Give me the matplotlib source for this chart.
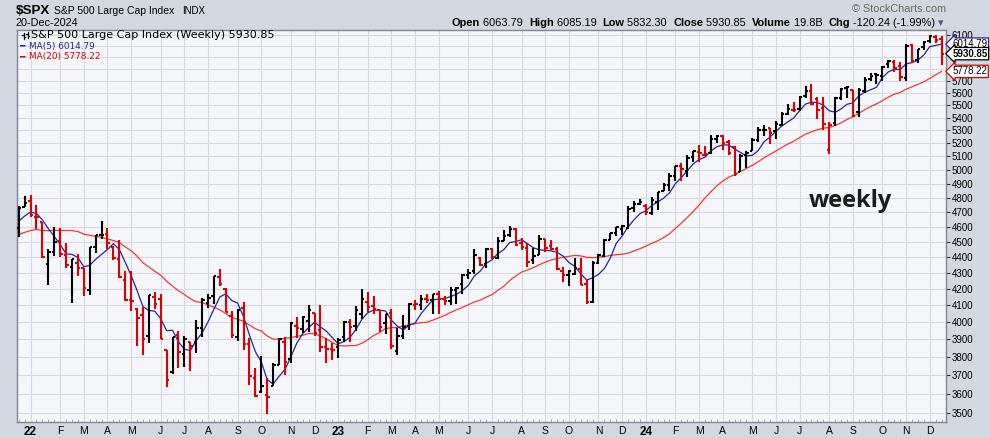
import numpy as np
import pandas as pd
import matplotlib
matplotlib.use("Agg")
import matplotlib.pyplot as plt
from matplotlib.lines import Line2D
from matplotlib.text import Annotation
from matplotlib.ticker import FixedLocator, NullLocator, FixedFormatter

W, H = 990, 438

# weekly closes before the first visible bar (only used to warm up the MAs)
warmup_close = [4468.00, 4441.67, 4509.37, 4535.43, 4458.58, 4432.99, 4455.48,
                4357.04, 4391.34, 4471.37, 4544.90, 4605.38, 4697.53, 4682.85,
                4697.96, 4594.62, 4538.43, 4712.02, 4620.64]

# weekly bars, week ending 23-Dec-2021 .. 20-Dec-2024
week_end = pd.date_range("2021-12-24", periods=157, freq="W-FRI")

opens = [4587.9, 4733.6, 4778.1, 4664.6, 4632.2, 4356.3, 4431.8, 4505.8, 4412.6, 4332.7,
         4363.1, 4327.0, 4188.8, 4462.4, 4541.1, 4547.9, 4462.6, 4385.6, 4255.3, 4130.6,
         4077.0, 4041.3, 3919.4, 4151.1, 4134.7, 3838.2, 3715.3, 3920.8, 3815.1, 3880.9,
         3883.8, 3965.0, 4112.4, 4155.9, 4269.4, 4195.1, 4034.6, 3909.4, 4083.7, 3871.4,
         3682.7, 3609.8, 3594.0, 3638.7, 3754.7, 3883.8, 3788.7, 3977.9, 3956.2, 4005.4,
         4052.0, 3954.2, 3853.8, 3843.3, 3853.3, 3910.8, 3999.3, 3978.1, 4049.3, 4119.5,
         4096.6, 4069.0, 3992.4, 4055.2, 3835.1, 3917.5, 3975.0, 4102.2, 4102.2, 4134.0,
         4132.1, 4166.8, 4136.0, 4126.7, 4190.8, 4226.7, 4283.0, 4308.3, 4396.1, 4354.2,
         4450.5, 4394.2, 4505.3, 4543.4, 4584.8, 4491.6, 4459.5, 4380.3, 4415.3, 4518.4,
         4473.3, 4452.6, 4312.0, 4284.5, 4289.0, 4320.1, 4226.8, 4120.3, 4364.3, 4407.1,
         4511.7, 4554.9, 4586.2, 4593.4, 4725.6, 4758.9, 4745.2, 4690.8, 4772.4, 4848.0,
         4888.9, 4957.2, 5026.8, 4989.3, 5093.0, 5130.9, 5112.0, 5123.3, 5228.9, 5258.0,
         5211.4, 5171.5, 4987.3, 5114.1, 5142.4, 5225.5, 5305.4, 5315.9, 5297.2, 5341.2,
         5431.6, 5459.6, 5471.1, 5572.8, 5615.7, 5544.7, 5476.6, 5151.1, 5357.0, 5557.5,
         5636.3, 5623.9, 5442.1, 5615.1, 5711.9, 5757.7, 5737.8, 5838.2, 5857.8, 5826.8,
         5723.2, 6008.9, 5875.6, 5992.3, 6040.1, 6081.1, 6063.79]

highs = [4740.7, 4808.9, 4818.6, 4748.8, 4632.2, 4453.2, 4595.3, 4590.0, 4489.6, 4385.0,
         4416.8, 4327.0, 4465.4, 4546.0, 4637.3, 4593.5, 4471.0, 4512.9, 4308.5, 4307.7,
         4081.0, 4090.7, 4158.5, 4177.5, 4168.8, 3838.2, 3913.6, 3945.9, 3918.5, 3880.9,
         4012.4, 4140.2, 4167.7, 4280.5, 4325.3, 4203.0, 4062.0, 4076.8, 4119.3, 3907.1,
         3736.7, 3806.9, 3685.4, 3762.8, 3905.4, 3911.8, 4001.5, 4028.8, 4034.0, 4100.5,
         4052.0, 4101.0, 3906.1, 3878.5, 3906.0, 4003.9, 4015.4, 4094.2, 4195.4, 4176.5,
         4156.0, 4069.0, 4048.3, 4079.0, 3962.1, 4039.5, 4110.8, 4133.1, 4163.2, 4169.5,
         4170.1, 4186.9, 4154.3, 4212.9, 4212.5, 4290.7, 4322.6, 4448.5, 4400.2, 4458.5,
         4456.5, 4527.6, 4578.4, 4607.1, 4594.2, 4527.4, 4490.3, 4458.3, 4541.3, 4518.4,
         4511.0, 4467.4, 4338.5, 4317.2, 4393.6, 4393.6, 4259.3, 4373.6, 4418.0, 4520.1,
         4560.3, 4598.5, 4609.2, 4738.6, 4778.0, 4793.3, 4754.3, 4802.4, 4842.1, 4907.0,
         4975.3, 5030.1, 5048.4, 5111.1, 5140.3, 5189.3, 5179.1, 5261.1, 5264.9, 5263.0,
         5222.2, 5176.4, 5114.6, 5139.1, 5239.7, 5325.5, 5341.9, 5316.3, 5375.1, 5447.3,
         5505.5, 5523.6, 5570.3, 5655.6, 5669.7, 5566.0, 5566.2, 5363.0, 5563.6, 5643.2,
         5651.6, 5623.9, 5636.3, 5733.6, 5767.4, 5765.1, 5822.1, 5878.5, 5878.5, 5862.8,
         6012.5, 6017.3, 5972.9, 6044.2, 6100.0, 6092.6, 6085.19]

lows = [4531.1, 4733.6, 4662.7, 4582.2, 4395.3, 4222.6, 4405.0, 4401.4, 4327.2, 4114.7,
        4279.5, 4157.9, 4161.7, 4424.3, 4517.7, 4450.0, 4381.3, 4267.6, 4124.3, 4062.5,
        3858.9, 3810.3, 3875.1, 4073.9, 3900.2, 3636.9, 3705.7, 3738.7, 3742.1, 3721.6,
        3818.6, 3910.7, 4079.8, 4107.0, 4218.7, 4057.7, 3906.2, 3886.8, 3837.1, 3647.5,
        3584.1, 3604.9, 3491.6, 3638.7, 3753.0, 3698.2, 3764.7, 3906.5, 3933.8, 3942.8,
        3918.4, 3827.1, 3764.5, 3783.0, 3794.3, 3885.5, 3885.5, 3949.1, 4015.6, 4060.8,
        4047.6, 3943.1, 3928.2, 3846.3, 3808.9, 3901.9, 3951.9, 4069.8, 4072.6, 4113.2,
        4049.4, 4048.3, 4098.9, 4103.0, 4103.9, 4166.2, 4261.1, 4292.4, 4341.5, 4328.1,
        4385.1, 4385.1, 4503.1, 4528.6, 4474.6, 4443.9, 4335.3, 4356.3, 4415.3, 4432.9,
        4446.8, 4316.7, 4238.6, 4216.5, 4283.8, 4223.0, 4103.8, 4113.8, 4357.4, 4400.8,
        4511.7, 4537.2, 4546.5, 4584.4, 4697.8, 4751.0, 4682.1, 4680.0, 4714.8, 4845.2,
        4845.2, 4918.1, 4920.3, 4946.0, 5058.3, 5056.8, 5104.4, 5117.5, 5203.4, 5146.1,
        5107.9, 4953.6, 4987.3, 5011.1, 5142.4, 5211.2, 5256.9, 5191.7, 5234.3, 5331.0,
        5420.3, 5447.6, 5448.6, 5557.0, 5497.0, 5390.9, 5305.1, 5119.3, 5331.0, 5540.2,
        5560.9, 5402.6, 5407.0, 5596.7, 5699.0, 5674.0, 5695.0, 5809.0, 5774.7, 5696.5,
        5696.5, 5853.0, 5853.0, 5963.9, 6020.8, 6026.0, 5832.30]

closes = [4725.79, 4766.18, 4677.03, 4662.85, 4397.94, 4431.85, 4500.53, 4418.64, 4348.87, 4384.65,
          4328.87, 4204.31, 4463.12, 4543.06, 4545.86, 4488.28, 4392.59, 4271.78, 4131.93, 4123.34,
          4023.89, 3901.36, 4158.24, 4108.54, 3900.86, 3674.84, 3911.74, 3825.33, 3899.38, 3863.16,
          3961.63, 4130.29, 4145.19, 4280.15, 4228.48, 4057.66, 3924.26, 4067.36, 3873.33, 3693.23,
          3585.62, 3639.66, 3583.07, 3752.75, 3901.06, 3770.55, 3992.93, 3965.34, 4026.12, 4071.70,
          3934.38, 3852.36, 3844.82, 3839.50, 3895.08, 3999.09, 3972.61, 4070.56, 4136.48, 4090.46,
          4079.09, 3970.04, 4045.64, 3861.59, 3916.64, 3970.99, 4109.31, 4105.02, 4137.64, 4133.52,
          4169.48, 4136.25, 4124.08, 4191.98, 4205.45, 4282.37, 4298.86, 4409.59, 4348.33, 4450.38,
          4398.95, 4505.42, 4536.34, 4582.23, 4478.03, 4464.05, 4369.71, 4405.71, 4515.77, 4457.49,
          4450.32, 4320.06, 4288.05, 4308.50, 4327.78, 4224.16, 4117.37, 4358.34, 4415.24, 4514.02,
          4559.34, 4594.63, 4604.37, 4719.19, 4754.63, 4769.83, 4697.24, 4783.83, 4839.81, 4890.97,
          4958.61, 5026.61, 5005.57, 5088.80, 5137.08, 5123.69, 5117.09, 5234.18, 5254.35, 5204.34,
          5123.41, 4967.23, 5099.96, 5127.79, 5222.68, 5303.27, 5304.72, 5277.51, 5346.99, 5431.60,
          5464.62, 5460.48, 5567.19, 5615.35, 5505.00, 5459.10, 5346.56, 5344.16, 5554.25, 5634.61,
          5648.40, 5408.42, 5626.02, 5702.55, 5738.17, 5751.07, 5815.03, 5864.67, 5808.12, 5728.80,
          5995.54, 5870.62, 5969.34, 6032.38, 6090.27, 6051.09, 5930.85]

price_ticks = [3500, 3600, 3700, 3800, 3900, 4000, 4100, 4200, 4300, 4400, 4500,
               4600, 4700, 4800, 4900, 5000, 5100, 5200, 5300, 5400, 5500, 5600, 5700, 6100]
grid_levels = list(range(3500, 6101, 100))

BG = "#d3d7df"
PANEL = "#f5f6fa"
GRID = "#d6d9df"
RED = "#dd0000"
BLUE = "#25259a"
MARED = "#ea3a36"
SANS = ["Liberation Sans", "DejaVu Sans"]


def fx(px):
    return px / W


def fy(py):
    return 1 - py / H


fig = plt.figure(figsize=(W / 100, H / 100), dpi=100, facecolor=BG)
ax = fig.add_axes([fx(16.5), fy(422), fx(946) - fx(16.5), fy(29.5) - fy(422)])
ax.set_facecolor(PANEL)

x = np.arange(len(closes))
op = np.array(opens)
hi = np.array(highs)
lo = np.array(lows)
cl = np.array(closes)

all_close = pd.Series(warmup_close + closes)
ma5 = all_close.rolling(5).mean().values[len(warmup_close):]
ma20 = all_close.rolling(20).mean().values[len(warmup_close):]

prev = np.concatenate([[warmup_close[-1]], cl[:-1]])
cols = np.where(cl < prev, RED, "black")

# grid
ax.set_yscale("log")
ax.set_ylim(3453, 6145)
ax.set_xlim(-0.38, 156.75)
for g in grid_levels:
    ax.axhline(g, color=GRID, lw=0.8, zorder=0)

mondays = week_end - pd.Timedelta(days=4)
month_idx = [i for i in range(1, len(mondays)) if mondays[i].month != mondays[i - 1].month]
month_lbl = []
for i in month_idx:
    m = mondays[i]
    month_lbl.append(str(m.year)[2:] if m.month == 1 else "JFMAMJJASOND"[m.month - 1])
for i in month_idx:
    ax.axvline(i, color=GRID, lw=0.8, zorder=0)

# moving averages
ax.plot(x, ma20, color=MARED, lw=0.9, zorder=2)
ax.plot(x, ma5, color=BLUE, lw=0.9, zorder=2)

# OHLC bars
tk = 0.42
ax.vlines(x, lo, hi, colors=cols, lw=1.5, zorder=3)
ax.hlines(op, x - tk, x, colors=cols, lw=1.5, zorder=3)
ax.hlines(cl, x, x + tk, colors=cols, lw=1.5, zorder=3)

# axes styling
for s in ax.spines.values():
    s.set_color("#80858f")
    s.set_linewidth(1.0)
ax.yaxis.tick_right()
ax.yaxis.set_major_locator(FixedLocator(price_ticks))
ax.yaxis.set_major_formatter(FixedFormatter([str(t) for t in price_ticks]))
ax.yaxis.set_minor_locator(NullLocator())
ax.tick_params(axis="y", which="major", length=3, width=0.8, pad=1,
               labelsize=7, colors="#333333", labelcolor="black")

ax.xaxis.set_major_locator(FixedLocator(month_idx))
ax.xaxis.set_major_formatter(FixedFormatter(month_lbl))
ax.xaxis.set_minor_locator(FixedLocator(list(x)))
ax.tick_params(axis="x", which="major", length=0, pad=3, labelsize=7.5)
ax.tick_params(axis="x", which="minor", length=2, width=0.6, direction="in", color="#9aa0aa")
for lab, txt in zip(ax.get_xticklabels(), month_lbl):
    lab.set_family(SANS)
    if txt.isdigit():
        lab.set_fontweight("bold")
        lab.set_fontsize(8.5)
for lab in ax.get_yticklabels():
    lab.set_family(SANS)

# value tags on the right
tags = [(ma5[-1], BLUE, "normal"), (cl[-1], "black", "bold"), (ma20[-1], RED, "normal")]
for val, c, wt in tags:
    ax.annotate(f"{val:.2f}", xy=(1.0, val), xycoords=("axes fraction", "data"),
                xytext=(4.5, 0), textcoords="offset points", va="center", ha="left",
                fontsize=7.0, fontweight=wt, family=SANS, color="black",
                bbox=dict(boxstyle="larrow,pad=0.12", fc="white", ec=c, lw=0.9))

# legend inside the plot: small bar-chart icon + labels
for bx, y0, y1 in [(23.5, 33, 39), (27.5, 32, 38)]:
    fig.add_artist(Line2D([fx(bx), fx(bx)], [fy(y0), fy(y1)], color="black", lw=0.9))
    fig.add_artist(Line2D([fx(bx - 1.6), fx(bx)], [fy(y0 + 2), fy(y0 + 2)], color="black", lw=0.9))
    fig.add_artist(Line2D([fx(bx), fx(bx + 1.6)], [fy(y1 - 2), fy(y1 - 2)], color="black", lw=0.9))
fig.text(fx(31), fy(35.5), "S&P 500 Large Cap Index (Weekly) 5930.85", fontsize=8,
         va="center", ha="left", color="black")
fig.text(fx(19), fy(46.5), "\u2501", fontsize=6.5, va="center", ha="left", color=BLUE)
fig.text(fx(29), fy(46.5), f"MA(5) {ma5[-1]:.2f}", fontsize=6.4, va="center", ha="left", color=BLUE)
fig.text(fx(19), fy(57), "\u2501", fontsize=6.5, va="center", ha="left", color=RED)
fig.text(fx(29), fy(57), f"MA(20) {ma20[-1]:.2f}", fontsize=6.4, va="center", ha="left", color=RED)

ax.text((850 - 16.5) / 929.5, 0.563, "weekly", transform=ax.transAxes, fontsize=17,
        fontweight="bold", family="Open Sans", color="#1c1c1c", ha="center", va="center")

# header
fig.text(fx(16), fy(11), "$SPX", fontsize=9.6, fontweight="bold", family=SANS,
         va="center", ha="left")
fig.text(fx(54), fy(10.5), "S&P 500 Large Cap Index", fontsize=7.5, family=SANS,
         va="center", ha="left")
fig.text(fx(182), fy(10.5), "INDX", fontsize=7.0, family=SANS, va="center", ha="left")
fig.text(fx(16), fy(23), "20-Dec-2024", fontsize=7.8, family=SANS,
         va="center", ha="left")
fig.text(fx(946), fy(9), "\u00a9 StockCharts.com", fontsize=7.8, family=SANS,
         color="#666666", va="center", ha="right")

chg = cl[-1] - cl[-2]
pct = chg / cl[-2] * 100
parts = [("High", "bold"), (f" {hi[-1]:.2f}  ", "normal"),
         ("Low", "bold"), (f" {lo[-1]:.2f}  ", "normal"),
         ("Close", "bold"), (f" {cl[-1]:.2f}  ", "normal"),
         ("Volume", "bold"), (" 19.8B  ", "normal"),
         ("Chg", "bold"), (f" {chg:.2f} ({pct:.2f}%)", "normal"),
         (" \u25be", "normal")]
anchor = fig.text(fx(452), fy(23), "Open", fontsize=7.9, fontweight="bold", family=SANS,
                  va="center", ha="left")
anchor = fig.add_artist(Annotation(f" {op[-1]:.2f}  ", xy=(1, 0.5), xycoords=anchor,
                                   va="center", ha="left", fontsize=7.9, family=SANS))
for s, wt in parts:
    c = "#4b5a8a" if "\u25be" in s else "black"
    anchor = fig.add_artist(Annotation(s, xy=(1, 0.5), xycoords=anchor, va="center", ha="left",
                                       fontsize=7.9, fontweight=wt, family=SANS, color=c))

fig.savefig("out.png", dpi=100, facecolor=BG)
